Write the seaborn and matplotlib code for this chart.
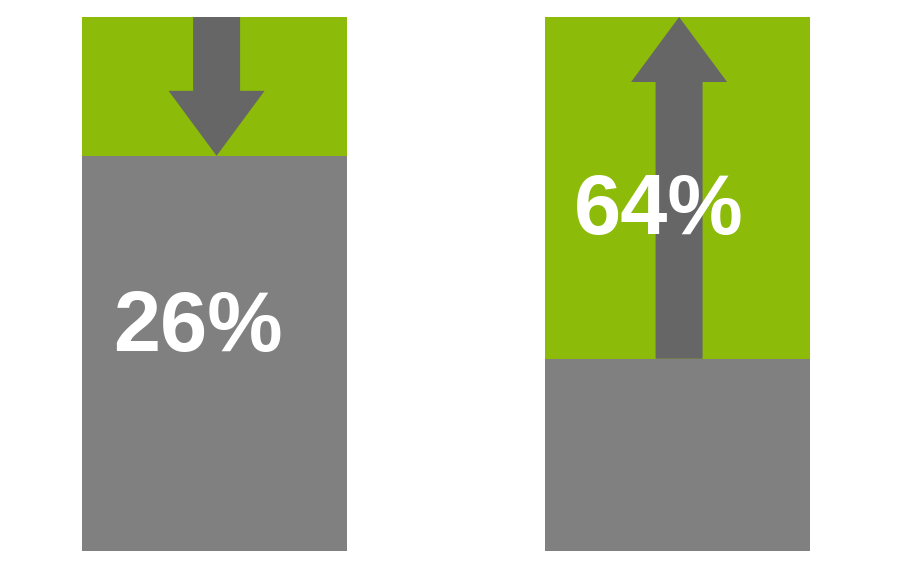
import numpy as np
import pandas as pd
import seaborn as sns
import matplotlib.pyplot as plt

sns.set_style("white")
plt.rcParams['font.family'] = ['Liberation Sans', 'DejaVu Sans']

# values
groups = ["A", "B"]
green_share = [26, 64]        # % shown as green block
gray_share = [74, 36]         # % shown as gray block (bottom)
labels = ["26%", "64%"]
arrow_dir = ["down", "up"]

green = "#8CBB0A"
gray = "#808080"
arrow_col = "#666666"

fig = plt.figure(figsize=(9.1, 5.69), dpi=100)
ax = fig.add_axes([0, 0, 1, 1])

df = pd.DataFrame({"group": groups, "total": [100, 100], "gray": gray_share})
bw = 265 / 462.5
sns.barplot(data=df, x="group", y="total", color=green, saturation=1,
            width=bw, ax=ax, linewidth=0)
sns.barplot(data=df, x="group", y="gray", color=gray, saturation=1,
            width=bw, ax=ax, linewidth=0)

# arrows (sit a touch right of bar centre in the original)
shaft = 47 / 462.5
head = 96 / 462.5
head_len = 65 / 5.34
for i, d in enumerate(arrow_dir):
    if d == "down":
        y0, dy = 100, -green_share[i]
    else:
        y0, dy = gray_share[i], 100 - gray_share[i]
    ax.arrow(i + 0.0045, y0, 0, dy, width=shaft,
             head_width=head, head_length=head_len,
             length_includes_head=True, color=arrow_col, linewidth=0)

# percentage labels
ax.text(0 - 0.035, 37.4, labels[0], color="white", fontsize=61,
        fontweight="bold", ha="center", va="baseline")
ax.text(1 - 0.039, 59.4, labels[1], color="white", fontsize=61,
        fontweight="bold", ha="center", va="baseline")

ax.set_xlim(-214.5 / 462.5, (910 - 214.5) / 462.5)
ax.set_ylim(-18 / 5.34, 100 + 17 / 5.34)
ax.axis("off")

fig.savefig("out.png", dpi=100)
